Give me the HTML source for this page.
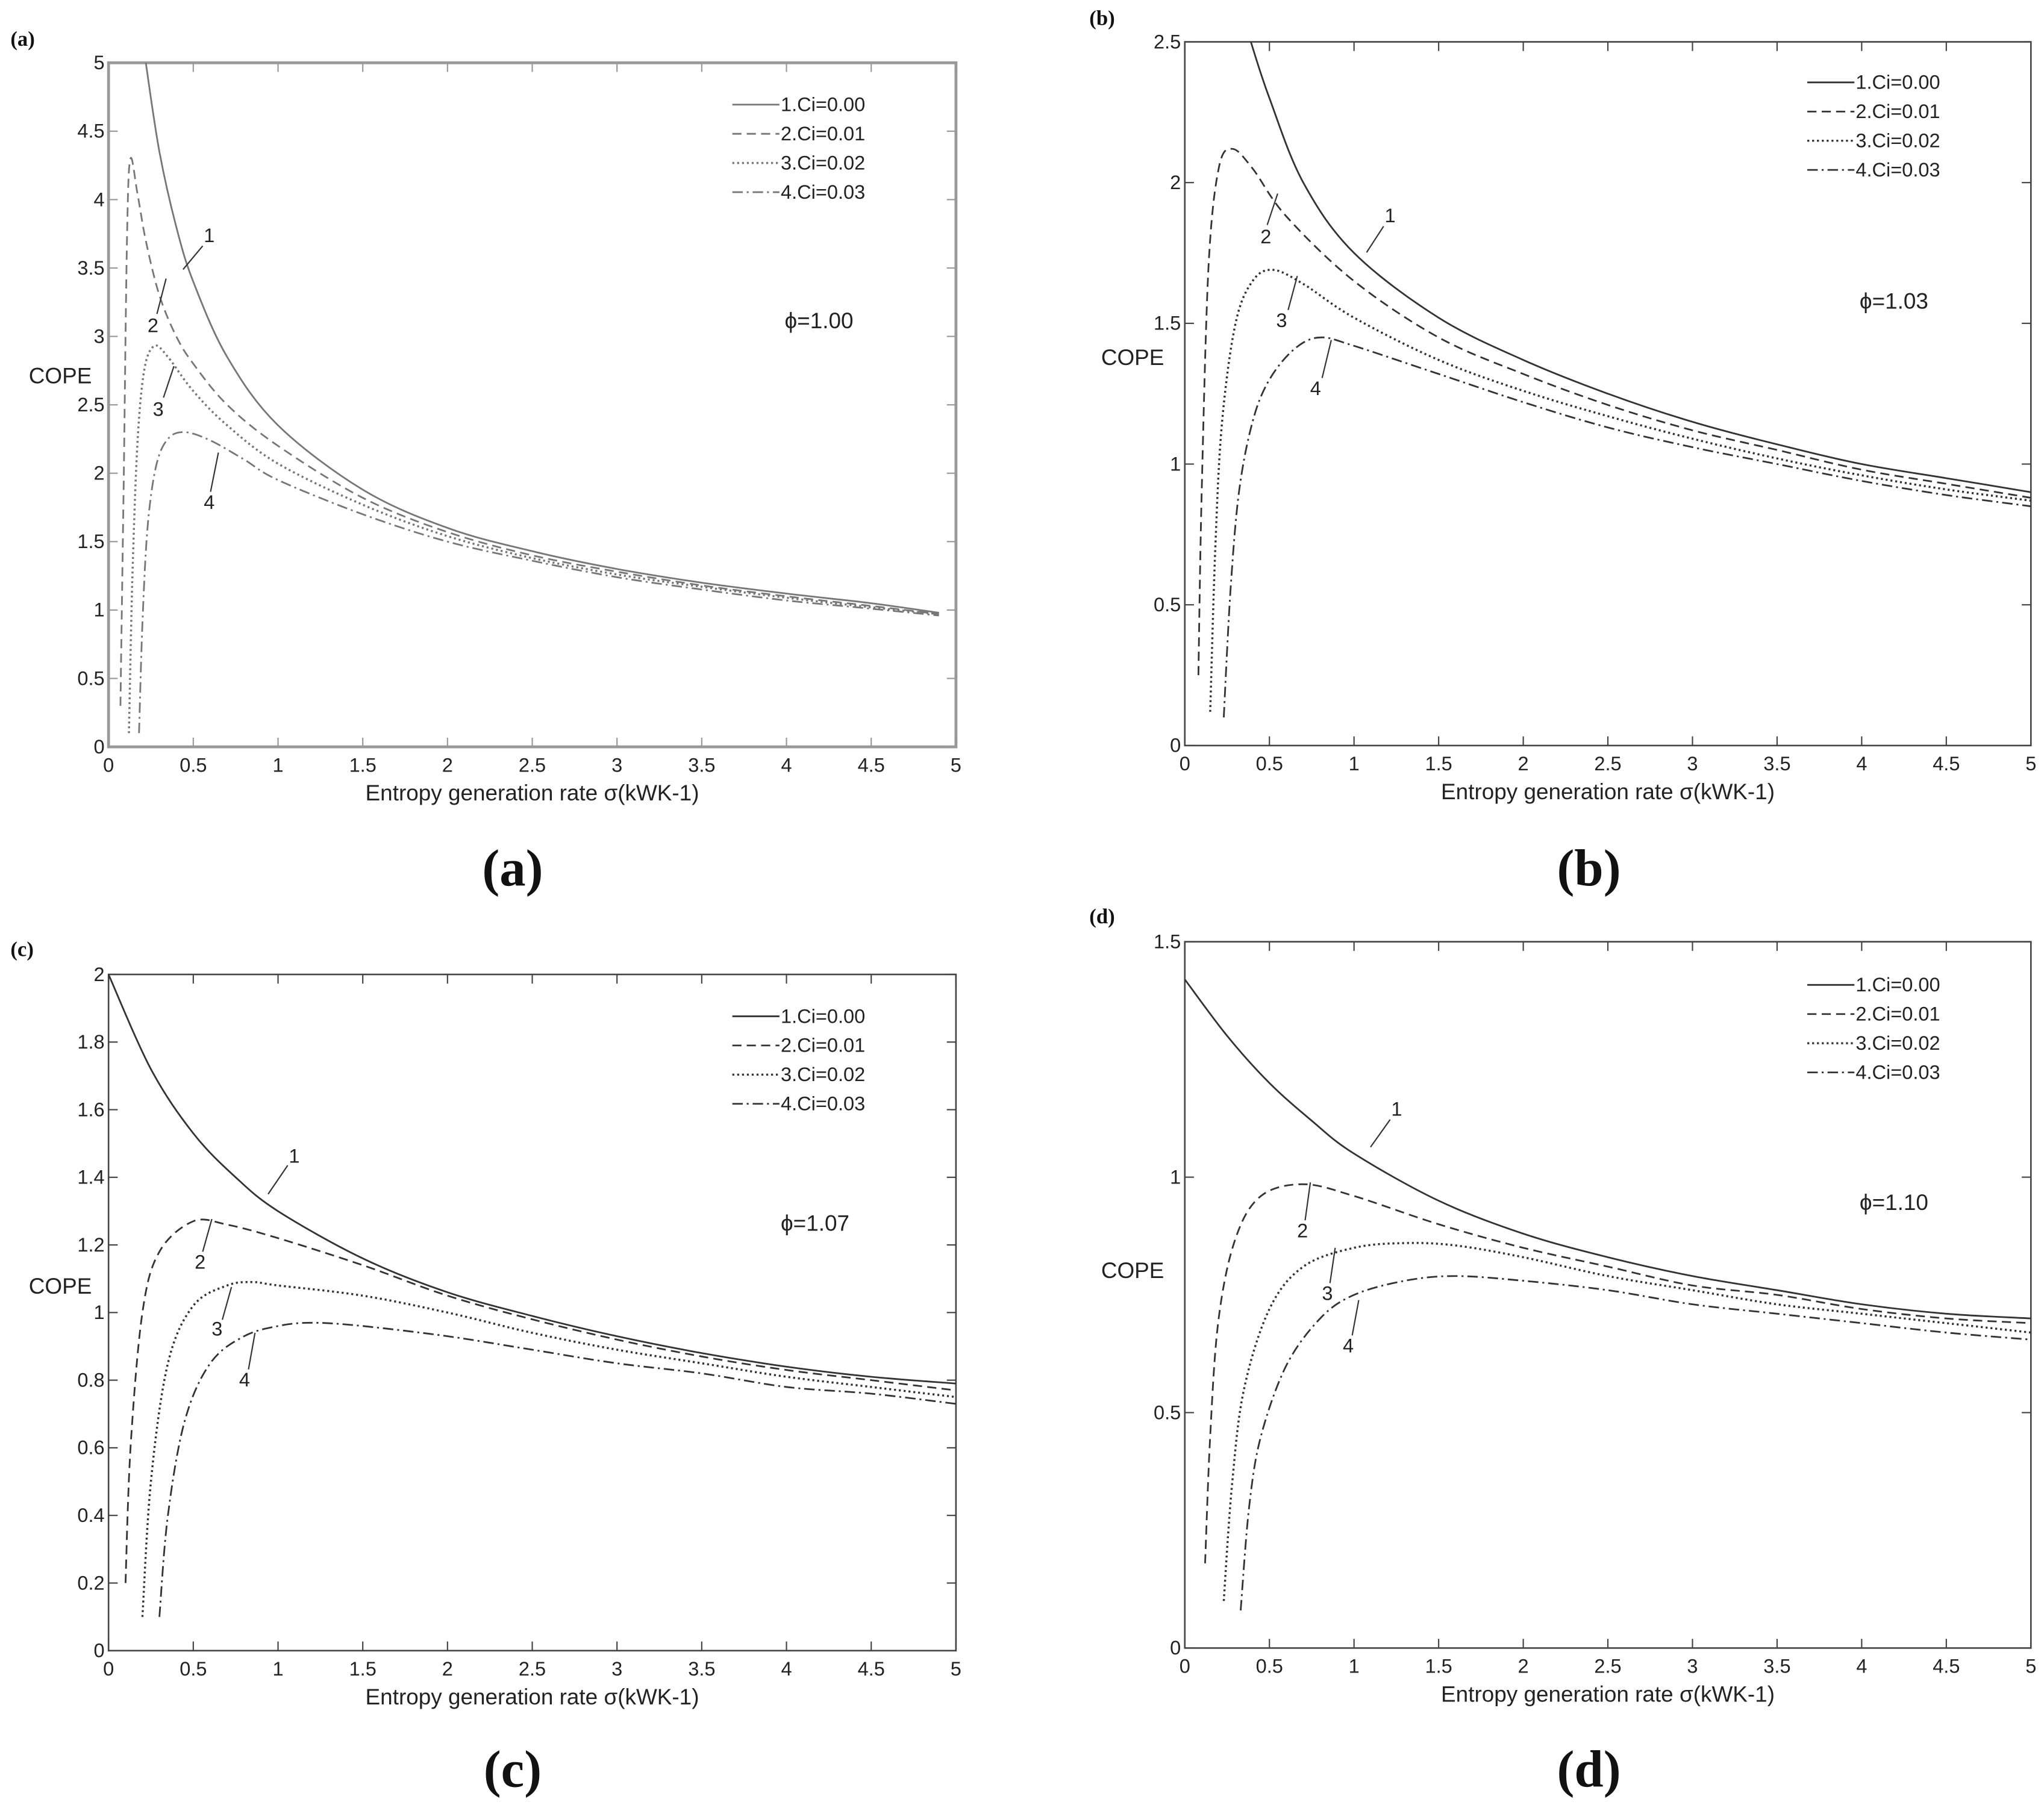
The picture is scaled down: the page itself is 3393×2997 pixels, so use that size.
<!DOCTYPE html>
<html><head><meta charset="utf-8"><style>
html,body{margin:0;padding:0;background:#fff;}
svg{display:block;}
text{font-family:"Liberation Sans",sans-serif;fill:#222;}
.serif{font-family:"Liberation Serif",serif;font-weight:bold;fill:#111;}
</style></head><body>
<svg id="fig" width="3393" height="2997" viewBox="0 0 1563 1380" preserveAspectRatio="none" xmlns="http://www.w3.org/2000/svg"></svg>
<script>
// ---- data ----
const xTicks=[0,0.5,1,1.5,2,2.5,3,3.5,4,4.5,5];
const xTickLabels=["0","0.5","1","1.5","2","2.5","3","3.5","4","4.5","5"];
const legendLabels=["1.Ci=0.00","2.Ci=0.01","3.Ci=0.02","4.Ci=0.03"];
// panel a
const aYTicks=[0,0.5,1,1.5,2,2.5,3,3.5,4,4.5,5];
const aX1=[0.22,0.3,0.4,0.5,0.7,1,1.5,2,2.5,3,3.5,4,4.5,4.9];
const aY1=[5,4.35,3.8,3.4,2.85,2.35,1.88,1.6,1.43,1.3,1.2,1.12,1.05,0.98];
const aX2=[0.07,0.09,0.11,0.13,0.17,0.22,0.3,0.4,0.5,0.7,1,1.5,2,2.5,3,3.5,4,4.5,4.9];
const aY2=[0.3,2,3.8,4.3,4.05,3.7,3.3,3.0,2.8,2.5,2.2,1.82,1.57,1.4,1.28,1.18,1.1,1.03,0.97];
const aX3=[0.12,0.14,0.17,0.21,0.27,0.35,0.5,0.7,1,1.5,2,2.5,3,3.5,4,4.5,4.9];
const aY3=[0.1,1.2,2.2,2.75,2.93,2.85,2.6,2.35,2.07,1.77,1.54,1.38,1.26,1.17,1.09,1.02,0.97];
const aX4=[0.18,0.2,0.23,0.28,0.35,0.45,0.6,0.8,1,1.5,2,2.5,3,3.5,4,4.5,4.9];
const aY4=[0.1,0.9,1.6,2.05,2.25,2.3,2.24,2.1,1.95,1.7,1.5,1.36,1.24,1.15,1.07,1.01,0.96];
// panel b
const bYTicks=[0,0.5,1,1.5,2,2.5];
const bX1=[0.39,0.5,0.7,1,1.5,2,2.5,3,3.5,4,4.5,5];
const bY1=[2.5,2.3,2.0,1.75,1.52,1.37,1.25,1.15,1.07,1.0,0.95,0.9];
const bX2=[0.08,0.1,0.14,0.2,0.28,0.4,0.6,1,1.5,2,2.5,3,3.5,4,4.5,5];
const bY2=[0.25,0.9,1.7,2.05,2.12,2.05,1.88,1.65,1.45,1.32,1.21,1.12,1.05,0.98,0.93,0.88];
const bX3=[0.15,0.18,0.22,0.3,0.4,0.52,0.7,1,1.5,2,2.5,3,3.5,4,4.5,5];
const bY3=[0.12,0.7,1.15,1.5,1.65,1.69,1.64,1.52,1.37,1.26,1.17,1.09,1.02,0.96,0.91,0.87];
const bX4=[0.23,0.27,0.32,0.4,0.5,0.65,0.8,1,1.5,2,2.5,3,3.5,4,4.5,5];
const bY4=[0.1,0.55,0.9,1.15,1.3,1.41,1.45,1.42,1.32,1.22,1.13,1.06,1.0,0.94,0.89,0.85];
// panel c
const cYTicks=[0,0.2,0.4,0.6,0.8,1,1.2,1.4,1.6,1.8,2];
const cX1=[0,0.25,0.5,0.75,1,1.5,2,2.5,3,3.5,4,4.5,5];
const cY1=[2.0,1.72,1.53,1.4,1.3,1.16,1.06,0.99,0.93,0.88,0.84,0.81,0.79];
const cX2=[0.1,0.13,0.2,0.3,0.5,0.7,1,1.5,2,2.5,3,3.5,4,4.5,5];
const cY2=[0.2,0.6,1.0,1.18,1.27,1.26,1.22,1.14,1.05,0.98,0.92,0.87,0.83,0.8,0.77];
const cX3=[0.2,0.25,0.35,0.5,0.7,0.85,1,1.5,2,2.5,3,3.5,4,4.5,5];
const cY3=[0.1,0.5,0.85,1.02,1.08,1.09,1.08,1.05,1.0,0.94,0.89,0.85,0.81,0.78,0.75];
const cX4=[0.3,0.35,0.45,0.6,0.8,1,1.2,1.5,2,2.5,3,3.5,4,4.5,5];
const cY4=[0.1,0.4,0.68,0.85,0.93,0.96,0.97,0.96,0.93,0.89,0.85,0.82,0.78,0.76,0.73];
// panel d
const dYTicks=[0,0.5,1,1.5];
const dX1=[0,0.25,0.5,0.75,1,1.5,2,2.5,3,3.5,4,4.5,5];
const dY1=[1.42,1.3,1.2,1.12,1.05,0.95,0.88,0.83,0.79,0.76,0.73,0.71,0.7];
const dX2=[0.12,0.15,0.2,0.3,0.45,0.7,1,1.5,2,2.5,3,3.5,4,4.5,5];
const dY2=[0.18,0.45,0.7,0.87,0.96,0.985,0.96,0.9,0.85,0.81,0.77,0.75,0.72,0.7,0.69];
const dX3=[0.23,0.28,0.35,0.5,0.7,1,1.3,1.6,2,2.5,3,3.5,4,4.5,5];
const dY3=[0.1,0.35,0.55,0.72,0.81,0.85,0.86,0.855,0.83,0.79,0.76,0.73,0.71,0.69,0.67];
const dX4=[0.33,0.38,0.45,0.6,0.8,1,1.3,1.6,2,2.5,3,3.5,4,4.5,5];
const dY4=[0.08,0.3,0.45,0.6,0.7,0.75,0.78,0.79,0.78,0.76,0.73,0.71,0.69,0.67,0.655];

const NS="http://www.w3.org/2000/svg";
const svg=document.getElementById('fig');
function mk(tag,attrs,parent){const e=document.createElementNS(NS,tag);for(const k in attrs)e.setAttribute(k,attrs[k]);(parent||svg).appendChild(e);return e;}
const dashes=["none","7,4","1.5,2.2","8,3,1.5,3"];
function smooth(P){
  let d='M'+P[0][0].toFixed(1)+','+P[0][1].toFixed(1);
  for(let i=0;i<P.length-1;i++){
    const p0=P[Math.max(i-1,0)],p1=P[i],p2=P[i+1],p3=P[Math.min(i+2,P.length-1)];
    const c1=[p1[0]+(p2[0]-p0[0])/6,p1[1]+(p2[1]-p0[1])/6];
    const c2=[p2[0]-(p3[0]-p1[0])/6,p2[1]-(p3[1]-p1[1])/6];
    d+=' C'+c1.map(v=>v.toFixed(1)).join(',')+' '+c2.map(v=>v.toFixed(1)).join(',')+' '+p2[0].toFixed(1)+','+p2[1].toFixed(1);
  }
  return d;
}

const panels=[
 {id:'a',L:83,R:731,T:48,B:571,ymax:5,yt:aYTicks,xs:[aX1,aX2,aX3,aX4],ys:[aY1,aY2,aY3,aY4],phi:"ϕ=1.00",light:true,
  lab:[8,35],leg:[560,85],phiP:[600,251],cope:[22,293],big:[392,677],
  ann:[[160,185,155,188,140,206],[117,254,127,213,120,240],[121,318,133,280,125,304],[160,389,167,346,161,376]]},
 {id:'b',L:906,R:1553,T:32,B:570,ymax:2.5,yt:bYTicks,xs:[bX1,bX2,bX3,bX4],ys:[bY1,bY2,bY3,bY4],phi:"ϕ=1.03",
  lab:[833,19],leg:[1382,68],phiP:[1422,236],cope:[842,279],big:[1215,677],
  ann:[[1063,170,1058,173,1045,193],[968,186,977,148,969,172],[980,250,992,211,985,237],[1006,302,1018,260,1011,289]]},
 {id:'c',L:83,R:731,T:745,B:1262,ymax:2,yt:cYTicks,xs:[cX1,cX2,cX3,cX4],ys:[cY1,cY2,cY3,cY4],phi:"ϕ=1.07",
  lab:[8,731],leg:[560,782],phiP:[597,941],cope:[22,989],big:[392,1366],
  ann:[[225,889,220,891,205,913],[153,970,162,932,155,957],[166,1021,177,984,170,1009],[187,1060,195,1019,190,1047]]},
 {id:'d',L:906,R:1553,T:720,B:1260,ymax:1.5,yt:dYTicks,xs:[dX1,dX2,dX3,dX4],ys:[dY1,dY2,dY3,dY4],phi:"ϕ=1.10",
  lab:[833,706],leg:[1382,758],phiP:[1422,925],cope:[842,977],big:[1215,1366],
  ann:[[1068,853,1063,856,1048,877],[996,946,1002,904,998,933],[1015,994,1021,954,1017,981],[1031,1034,1039,994,1034,1021]]}
];

panels.forEach(p=>{
  const g=mk('g',{});
  
  
  const X=v=>p.L+(p.R-p.L)*v/5;
  const Y=v=>p.B-(p.B-p.T)*v/p.ymax;
  const ac=p.light?'#999':'#444';
  const aw=p.light?2.2:1.2;
  const frame=mk('rect',{x:p.L,y:p.T,width:p.R-p.L,height:p.B-p.T,fill:'none',stroke:ac,'stroke-width':aw},g);
  
  
  xTicks.forEach((t,i)=>{
    const x=X(t);
    mk('line',{x1:x,y1:p.B,x2:x,y2:p.B-7,stroke:ac,'stroke-width':1},g);
    mk('line',{x1:x,y1:p.T,x2:x,y2:p.T+7,stroke:ac,'stroke-width':1},g);
    const tx=mk('text',{x:x,y:p.B+19,'font-size':15,'text-anchor':'middle'},g);
    tx.textContent=xTickLabels[i];
    
    
  });
  p.yt.forEach(t=>{
    const y=Y(t);
    mk('line',{x1:p.L,y1:y,x2:p.L+7,y2:y,stroke:ac,'stroke-width':1},g);
    mk('line',{x1:p.R,y1:y,x2:p.R-7,y2:y,stroke:ac,'stroke-width':1},g);
    const ty=mk('text',{x:p.L-3,y:y+5,'font-size':15,'text-anchor':'end'},g);
    ty.textContent=String(t);
    
    
  });
  const lc=p.light?'#777':'#333';
  for(let s=0;s<4;s++){
    const P=p.xs[s].map((xv,i)=>[X(xv),Y(Math.min(p.ys[s][i],p.ymax))]);
    const pl=mk('path',{d:smooth(P),fill:'none',stroke:lc,'stroke-width':s==2?1.6:1.3,'stroke-dasharray':dashes[s],'stroke-linejoin':'round'},g);
    
    
    const ly=p.leg[1]+s*22.3;
    mk('line',{x1:p.leg[0],y1:ly-5,x2:p.leg[0]+36,y2:ly-5,stroke:lc,'stroke-width':s==2?1.6:1.3,'stroke-dasharray':dashes[s]},g);
    const lt=mk('text',{x:p.leg[0]+37,y:ly,'font-size':15},g);
    lt.textContent=legendLabels[s];
    
    
    const a=p.ann[s];
    mk('line',{x1:a[2],y1:a[3],x2:a[4],y2:a[5],stroke:'#333','stroke-width':1},g);
    const at=mk('text',{x:a[0],y:a[1],'font-size':15,'text-anchor':'middle'},g);
    at.textContent=String(s+1);
    
    
  }
  const ph=mk('text',{x:p.phiP[0],y:p.phiP[1],'font-size':17},g);
  ph.textContent=p.phi;
  
  
  const cp=mk('text',{x:p.cope[0],y:p.cope[1],'font-size':17},g);
  cp.textContent='COPE';
  
  
  const xt=mk('text',{x:(p.L+p.R)/2,y:p.B+41,'font-size':17,'text-anchor':'middle'},g);
  xt.textContent='Entropy generation rate σ(kWK-1)';
  
  
  const sl=mk('text',{x:p.lab[0],y:p.lab[1],'font-size':16,class:'serif'},g);
  sl.textContent='('+p.id+')';
  
  
  const bl=mk('text',{x:p.big[0],y:p.big[1],'font-size':40,'text-anchor':'middle',class:'serif'},g);
  bl.textContent='('+p.id+')';
  
  
});
</script>
</body></html>
